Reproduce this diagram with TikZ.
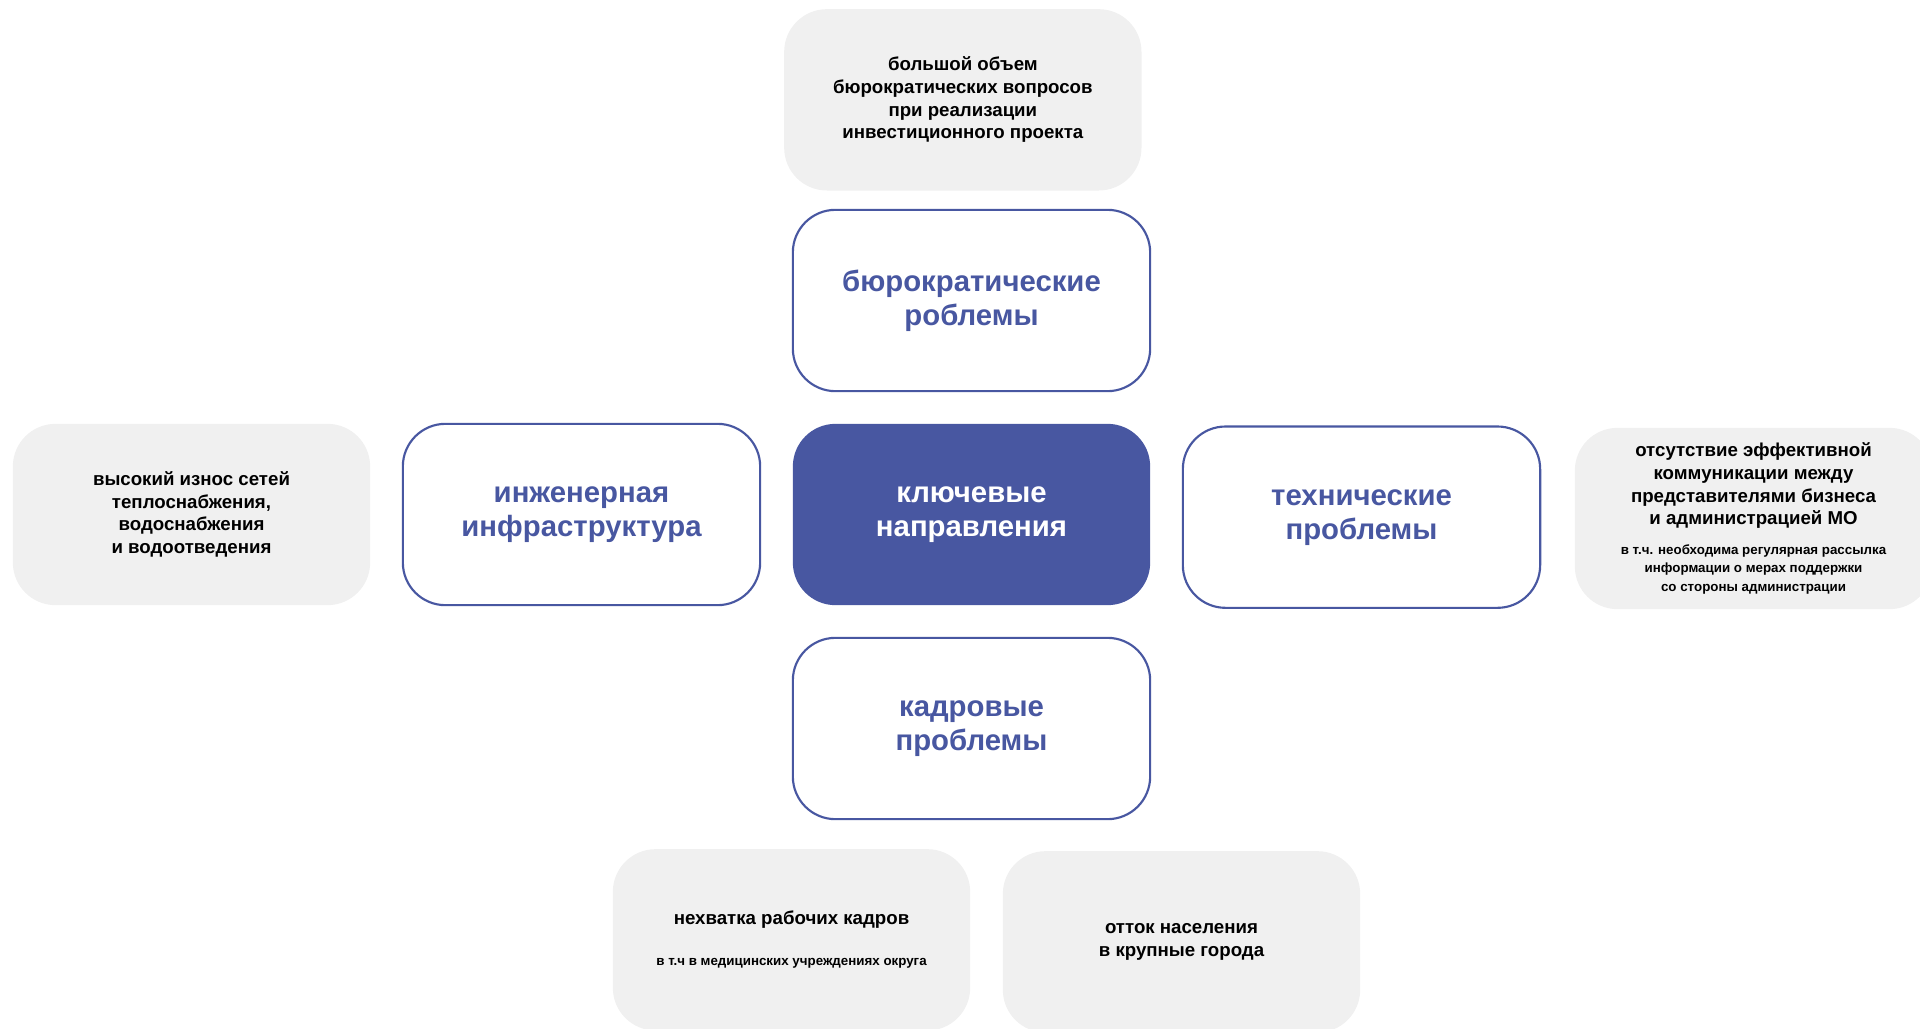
\documentclass[tikz,border=0pt]{standalone}
\usepackage{fontspec}
\setmainfont{Liberation Sans}
\usepackage{tikz}
\usetikzlibrary{positioning}
\definecolor{navy}{RGB}{72,87,161}
\definecolor{pale}{RGB}{240,240,240}
\tikzstyle{box}=[rounded corners=32pt,minimum width=268pt,minimum height=136pt,align=center,font=\bfseries,inner sep=4pt]
\tikzstyle{dir}=[box,draw=navy,line width=1.6pt,fill=white,text=navy,font=\bfseries\fontsize{22}{25.5}\selectfont]
\tikzstyle{hub}=[box,fill=navy,text=white,font=\bfseries\fontsize{22}{25.5}\selectfont]
\tikzstyle{note}=[box,fill=pale,text=black,font=\bfseries\fontsize{14}{17}\selectfont]
\newcommand{\smalltxt}{\fontsize{10}{11.5}\selectfont}

\begin{document}
\begin{tikzpicture}[x=0.75pt,y=0.75pt,node distance=23.5pt]
    \useasboundingbox (0,0) rectangle (1920,-1028);
    \node (key) [hub] at (971.5,-514.5) {ключевые\\направления};
    \node (bur) [dir] [above=of key] {бюрократические\\роблемы};
    \node (staff) [dir] [below=of key] {кадровые\\проблемы};
    \node (eng) [dir] [left=of key] {инженерная\\инфраструктура};
    \node (tech) [dir] [right=of key, yshift=-2pt] {технические\\проблемы};

    \node (paper) [note] [above=13.5pt of bur, xshift=-6.5pt] {большой объем\\бюрократических вопросов\\при реализации\\инвестиционного проекта};
    \node (nets) [note] [left=of eng] {высокий износ сетей\\теплоснабжения,\\водоснабжения\\и водоотведения};
    \node (comm) [note] [right=25pt of tech, yshift=-1pt] {отсутствие эффективной\\коммуникации между\\представителями бизнеса\\и администрацией МО\\[5pt]
        {\smalltxt в т.ч. необходима регулярная рассылка}\\[-3pt]{\smalltxt информации о мерах поддержки}\\[-3pt]{\smalltxt со стороны администрации}};
    \node (lack) [note] [below=21.5pt of staff, xshift=-135pt] {нехватка рабочих кадров\\[14pt]{\smalltxt в т.ч в медицинских учреждениях округа}};
    \node (flow) [note] [below=23pt of staff, xshift=157.5pt] {отток населения\\в крупные города};
\end{tikzpicture}
\end{document}
